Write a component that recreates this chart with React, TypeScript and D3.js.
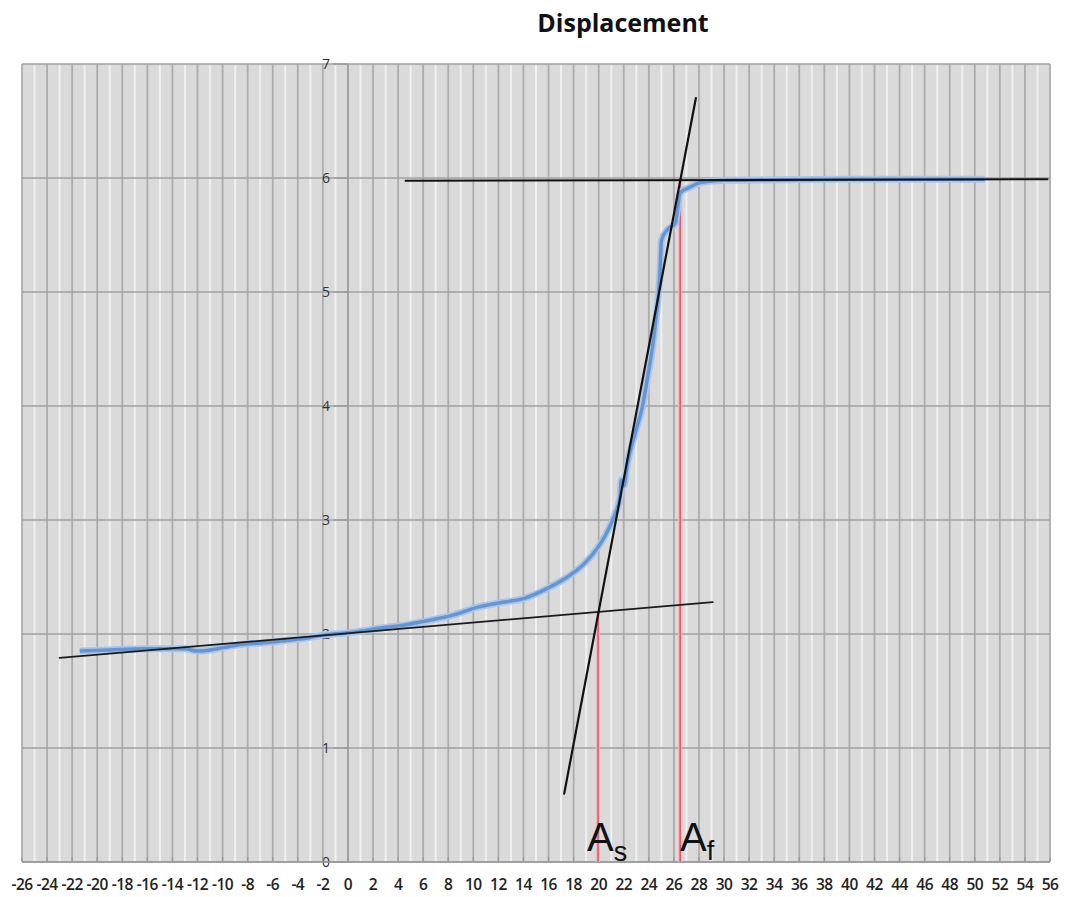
import React from "react";
import * as d3 from "d3";

// displacement curve (temperature, displacement)
const curveT = [-21.4, -19, -16, -13, -12, -11, -9, -6, -3, -2, 0, 2.5, 4, 6.5, 8.5, 10.5, 12.5, 14, 15.9, 17.5, 18.7, 19.6, 20.6, 21.3, 21.7, 21.8, 22.0, 22.3, 22.9, 23.5, 23.9, 24.5, 24.9, 25.0, 25.5, 26.1, 26.5, 27.3, 28.1, 30, 35, 40, 45, 50.8];
const curveD = [1.85, 1.86, 1.87, 1.87, 1.85, 1.86, 1.9, 1.93, 1.97, 1.99, 2.01, 2.05, 2.07, 2.12, 2.17, 2.24, 2.28, 2.31, 2.4, 2.5, 2.6, 2.71, 2.88, 3.05, 3.2, 3.35, 3.3, 3.5, 3.76, 4.0, 4.25, 4.7, 5.2, 5.45, 5.55, 5.6, 5.87, 5.92, 5.96, 5.98, 5.985, 5.99, 5.99, 5.99];

// tangent lines [x1, y1, x2, y2]
const lowTangent = [-23.0, 1.79, 29.1, 2.28];
const steepTangent = [17.25, 0.6, 27.75, 6.7];
const topTangent = [4.6, 5.975, 55.8, 5.99];

// transition temperatures
const asTemp = 19.95;
const asTop = 2.19;
const afTemp = 26.5;
const afTop = 5.98;

const xTicks = d3.range(-26, 57, 2);
const xMinor = d3.range(-25, 56, 2);
const yTicks = [0, 1, 2, 3, 4, 5, 6, 7];

const App: React.FC = () => {
  const x = d3.scaleLinear().domain([-26, 56]).range([22, 1050]);
  const y = d3.scaleLinear().domain([0, 7]).range([862, 64]);

  const pts: [number, number][] = curveT.map((t, i) => [t, curveD[i]]);
  const line = d3
    .line<[number, number]>()
    .x(d => x(d[0]))
    .y(d => y(d[1]))
    .curve(d3.curveMonotoneX);

  const seg = (s: number[], color: string, w: number) => (
    <line x1={x(s[0])} y1={y(s[1])} x2={x(s[2])} y2={y(s[3])} stroke={color} strokeWidth={w} strokeLinecap="round" />
  );

  const font = "'Open Sans', 'Noto Sans', sans-serif";

  return (
    <svg width={1065} height={897} style={{ position: "absolute", left: 0, top: 0, background: "#fff" }}>
      <text x={623} y={32} textAnchor="middle" fontFamily={font} fontWeight="bold" fontSize={25} fill="#111">
        Displacement
      </text>

      <rect x={x(-26)} y={y(7)} width={x(56) - x(-26)} height={y(0) - y(7)} fill="#dadada" />

      {xMinor.map(v => (
        <line key={"m" + v} x1={x(v)} x2={x(v)} y1={y(7)} y2={y(0)} stroke="#f0f0f0" strokeWidth={2} />
      ))}
      {xTicks.map(v => (
        <line key={"g" + v} x1={x(v)} x2={x(v)} y1={y(7)} y2={y(0)} stroke="#acacac" strokeWidth={1.8} />
      ))}
      {yTicks.map(v => (
        <line key={"h" + v} x1={x(-26)} x2={x(56)} y1={y(v)} y2={y(v)} stroke="#a0a0a0" strokeWidth={1.4} />
      ))}

      {/* y axis at x = 0 */}
      <line x1={x(0)} x2={x(0)} y1={y(7)} y2={y(0)} stroke="#9a9a9a" strokeWidth={1.3} />
      {yTicks.map(v => (
        <g key={"yt" + v}>
          <line x1={x(0) - 14} x2={x(0)} y1={y(v)} y2={y(v)} stroke="#9a9a9a" strokeWidth={1.3} />
          <text x={x(0) - 18} y={y(v)} dy="0.35em" textAnchor="end" fontFamily={font} fontSize={14} fill="#333">
            {v}
          </text>
        </g>
      ))}

      {/* x axis */}
      <line x1={x(-26)} x2={x(56)} y1={y(0)} y2={y(0)} stroke="#9a9a9a" strokeWidth={1.3} />
      {xTicks.map(v => (
        <g key={"xt" + v}>
          <line x1={x(v)} x2={x(v)} y1={y(0) - 5} y2={y(0)} stroke="#9a9a9a" strokeWidth={1.2} />
          <text x={x(v)} y={890} textAnchor="middle" fontFamily={font} fontWeight={600} fontSize={15.5} letterSpacing={-0.5} fill="#222">
            {v}
          </text>
        </g>
      ))}

      {/* transition markers */}
      <line x1={x(asTemp)} x2={x(asTemp)} y1={y(0)} y2={y(asTop)} stroke="#f4b6bd" strokeWidth={4} />
      <line x1={x(asTemp)} x2={x(asTemp)} y1={y(0)} y2={y(asTop)} stroke="#de5468" strokeWidth={1.5} />
      <line x1={x(afTemp)} x2={x(afTemp)} y1={y(0)} y2={y(afTop)} stroke="#f4b6bd" strokeWidth={4} />
      <line x1={x(afTemp)} x2={x(afTemp)} y1={y(0)} y2={y(afTop)} stroke="#de5468" strokeWidth={1.5} />

      <path d={line(pts) ?? ""} fill="none" stroke="#a9c6ea" strokeWidth={7} strokeLinejoin="round" />
      <path d={line(pts) ?? ""} fill="none" stroke="#6695d2" strokeWidth={3.5} strokeLinejoin="round" />

      {seg(lowTangent, "#1a1a1a", 1.8)}
      {seg(steepTangent, "#111", 2.2)}
      {seg(topTangent, "#111", 2)}

      <text x={587} y={851} fontFamily="'Liberation Sans', Arial, sans-serif" fontSize={40} fill="#111">
        A
        <tspan fontSize={27} dy={10}>s</tspan>
      </text>
      <text x={680} y={851} fontFamily="'Liberation Sans', Arial, sans-serif" fontSize={40} fill="#111">
        A
        <tspan fontSize={27} dy={9}>f</tspan>
      </text>
    </svg>
  );
};

export default App;
